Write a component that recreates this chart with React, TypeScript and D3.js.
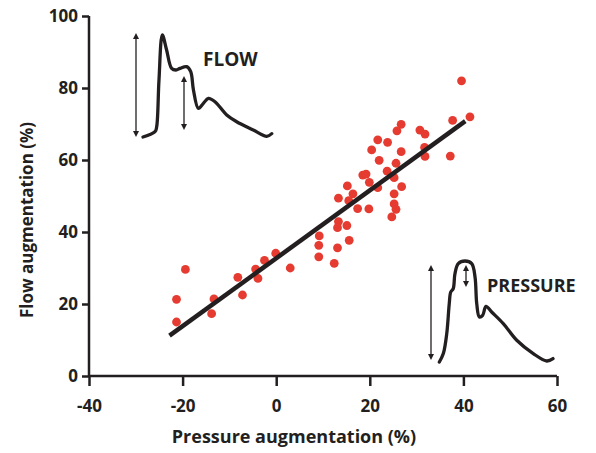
import * as d3 from "d3";
import React, { useEffect, useRef } from "react";

// pressure augmentation (%) vs flow augmentation (%)
const pressureAug = [
  39.6, 37.7, 41.4, 26.7, 25.8, 30.7, 31.8, 21.7, 23.8, 20.4, 26.7, 31.7, 31.8, 37.2,
  22.0, 25.6, 23.7, 18.5, 19.2, 25.2, 19.9, 15.2, 21.7, 26.8, 16.4, 13.3, 15.5, 25.2,
  17.4, 19.8, 25.2, 25.6, 24.7, 13.3, 13.1, 15.1, 9.2, 15.6, 9.1, 9.1, 12.4, 13.1,
  3.0, -0.1, -2.5, -3.9, -4.4, -7.2, -8.2, -13.3, -13.8, -19.4, -21.3, -21.3,
];
const flowAug = [
  82.0, 71.0, 72.0, 69.9, 68.1, 68.3, 67.2, 65.6, 64.9, 62.8, 62.3, 63.5, 61.0, 61.1,
  59.9, 59.1, 56.9, 55.8, 56.1, 55.1, 53.8, 52.8, 52.3, 52.6, 50.6, 49.4, 48.7, 50.6,
  46.5, 46.4, 47.8, 46.3, 44.2, 42.9, 41.2, 41.8, 38.9, 37.7, 36.3, 33.1, 31.3, 35.6,
  30.0, 34.1, 32.1, 27.1, 29.7, 22.5, 27.4, 21.4, 17.3, 29.6, 21.3, 15.0,
];

// regression line
const fitSlope = 0.943;
const fitIntercept = 32.7;
const fitRange = [-22.8, 40.4];

const xTicks = [-40, -20, 0, 20, 40, 60];
const yTicks = [0, 20, 40, 60, 80, 100];
const xTitle = "Pressure augmentation (%)";
const yTitle = "Flow augmentation (%)";

// waveform sketches, normalised time / amplitude
const flowWave: [number, number][] = [
  [0.0, 0.0], [0.093, 0.052], [0.106, 0.1], [0.124, 0.56], [0.15, 1.0], [0.183, 0.853],
  [0.222, 0.673], [0.256, 0.657], [0.287, 0.673], [0.339, 0.69], [0.37, 0.64],
  [0.391, 0.461], [0.429, 0.281], [0.468, 0.33], [0.507, 0.379], [0.558, 0.346],
  [0.649, 0.216], [0.726, 0.15], [0.855, 0.069], [0.959, 0.007], [0.998, 0.033],
];
const pressureWave: [number, number][] = [
  [0.003, 0.0], [0.038, 0.083], [0.068, 0.281], [0.09, 0.578], [0.103, 0.693],
  [0.125, 0.727], [0.14, 0.875], [0.169, 0.974], [0.228, 1.0], [0.287, 0.974],
  [0.316, 0.842], [0.331, 0.578], [0.354, 0.446], [0.383, 0.462], [0.412, 0.551],
  [0.462, 0.495], [0.564, 0.38], [0.682, 0.215], [0.827, 0.083], [0.945, 0.01],
  [1.0, 0.034],
];

const width = 596;
const height = 453;
const ink = "#231f20";
const dotColor = "#e53b30";
const font = "'Open Sans', 'DejaVu Sans', sans-serif";

export default function App() {
  const svgRef = useRef<SVGSVGElement>(null);

  useEffect(() => {
    const svg = d3.select(svgRef.current);
    svg.selectAll("*").remove();

    const x = d3.scaleLinear().domain([-40, 60]).range([89, 557]);
    const y = d3.scaleLinear().domain([0, 100]).range([376, 16]);

    const defs = svg.append("defs");
    ["arrowS", "arrowE"].forEach((id, i) => {
      defs
        .append("marker")
        .attr("id", id)
        .attr("viewBox", "0 0 10 10")
        .attr("refX", 5)
        .attr("refY", 5)
        .attr("markerWidth", 6)
        .attr("markerHeight", 7)
        .attr("markerUnits", "userSpaceOnUse")
        .attr("orient", "auto")
        .append("path")
        .attr("d", i === 0 ? "M10,0 L0,5 L10,10 Z" : "M0,0 L10,5 L0,10 Z")
        .attr("fill", ink);
    });

    // axes
    const g = svg.append("g");
    const xAxis = d3.axisBottom(x).tickValues(xTicks).tickSize(10).tickPadding(14).tickFormat((d) => String(d));
    const yAxis = d3.axisLeft(y).tickValues(yTicks).tickSize(7).tickPadding(4).tickFormat((d) => String(d));

    const xG = g.append("g").attr("transform", `translate(0,${y(0)})`).call(xAxis);
    const yG = g.append("g").attr("transform", `translate(${x(-40)},0)`).call(yAxis);
    [xG, yG].forEach((ax) => {
      ax.select(".domain").attr("stroke", ink).attr("stroke-width", 2.5);
      ax.selectAll(".tick line").attr("stroke", ink).attr("stroke-width", 2.5);
      ax.selectAll(".tick text")
        .attr("fill", ink)
        .attr("font-family", font)
        .attr("font-weight", 700)
        .attr("font-size", 17);
    });
    // straight domain ends without outer tick hooks
    xG.select(".domain").attr("d", `M${x(-40)},0H${x(60)}`);
    yG.select(".domain").attr("d", `M0,${y(0)}V${y(100)}`);

    g.append("text")
      .attr("x", 294)
      .attr("y", 443)
      .attr("text-anchor", "middle")
      .attr("font-family", font)
      .attr("font-weight", 700)
      .attr("font-size", 18)
      .attr("fill", ink)
      .text(xTitle);

    g.append("text")
      .attr("transform", `translate(33,220) rotate(-90)`)
      .attr("text-anchor", "middle")
      .attr("font-family", font)
      .attr("font-weight", 700)
      .attr("font-size", 17)
      .attr("fill", ink)
      .text(yTitle);

    // dots
    svg
      .append("g")
      .selectAll("circle")
      .data(d3.range(pressureAug.length))
      .join("circle")
      .attr("cx", (i) => x(pressureAug[i]))
      .attr("cy", (i) => y(flowAug[i]))
      .attr("r", 4.4)
      .attr("fill", dotColor);

    // regression line
    svg
      .append("line")
      .attr("x1", x(fitRange[0]))
      .attr("y1", y(fitSlope * fitRange[0] + fitIntercept))
      .attr("x2", x(fitRange[1]))
      .attr("y2", y(fitSlope * fitRange[1] + fitIntercept))
      .attr("stroke", ink)
      .attr("stroke-width", 4.5);

    // inset waveforms
    const drawInset = (
      wave: [number, number][],
      box: { x0: number; x1: number; top: number; bottom: number },
      arrows: { x: number; y1: number; y2: number }[],
      label: string,
      labelPos: [number, number],
      labelSize: number
    ) => {
      const sx = d3.scaleLinear().domain([0, 1]).range([box.x0, box.x1]);
      const sy = d3.scaleLinear().domain([0, 1]).range([box.bottom, box.top]);
      const line = d3
        .line<[number, number]>()
        .x((d) => sx(d[0]))
        .y((d) => sy(d[1]))
        .curve(d3.curveCatmullRom.alpha(0.5));
      const ig = svg.append("g");
      ig.append("path")
        .attr("d", line(wave))
        .attr("fill", "none")
        .attr("stroke", ink)
        .attr("stroke-width", 3.3)
        .attr("stroke-linecap", "round")
        .attr("stroke-linejoin", "round");
      arrows.forEach((a) => {
        ig.append("line")
          .attr("x1", a.x)
          .attr("x2", a.x)
          .attr("y1", a.y1 + 3)
          .attr("y2", a.y2 - 3)
          .attr("stroke", ink)
          .attr("stroke-width", 1.3)
          .attr("marker-start", "url(#arrowS)")
          .attr("marker-end", "url(#arrowE)");
      });
      ig.append("text")
        .attr("x", labelPos[0])
        .attr("y", labelPos[1])
        .attr("font-family", font)
        .attr("font-weight", 700)
        .attr("font-size", labelSize)
        .attr("fill", ink)
        .text(label);
    };

    drawInset(
      flowWave,
      { x0: 143, x1: 272, top: 35, bottom: 137 },
      [
        { x: 136, y1: 33, y2: 137 },
        { x: 184, y1: 76, y2: 130 },
      ],
      "FLOW",
      [203, 66],
      19
    );
    drawInset(
      pressureWave,
      { x0: 439, x1: 553, top: 261, bottom: 362 },
      [
        { x: 431, y1: 265, y2: 360 },
        { x: 466, y1: 265, y2: 287 },
      ],
      "PRESSURE",
      [487, 292],
      18
    );
  }, []);

  return (
    <svg
      ref={svgRef}
      width={width}
      height={height}
      style={{ position: "absolute", left: 0, top: 0, background: "#fff" }}
    ></svg>
  );
}
